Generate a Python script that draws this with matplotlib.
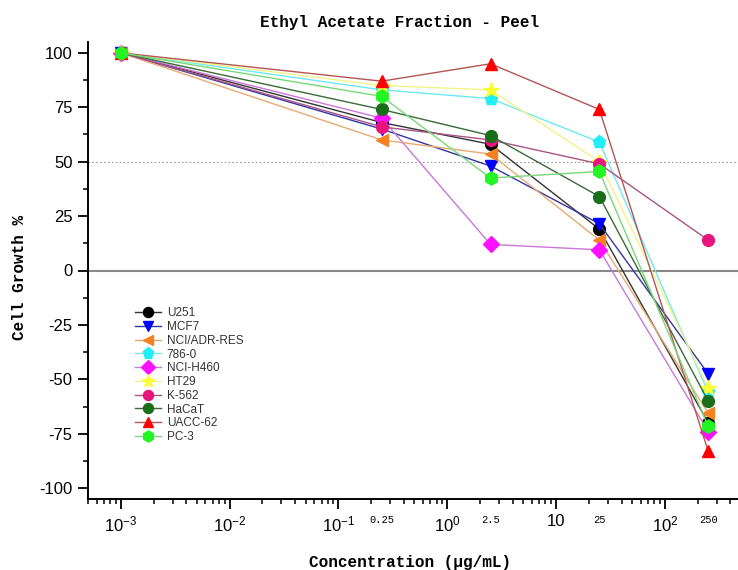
import matplotlib
matplotlib.use("Agg")
import matplotlib.pyplot as plt
import matplotlib.transforms as mtransforms
from matplotlib.ticker import FixedLocator, LogLocator, MultipleLocator, NullFormatter

plt.rcParams['font.family'] = ['Liberation Sans', 'DejaVu Sans']
plt.rcParams['axes.unicode_minus'] = False

# concentrations tested (ug/mL); 0.001 is the untreated control
conc = [0.001, 0.25, 2.5, 25, 250]
conc_labels = ['0.25', '2.5', '25', '250']

cell_lines = ['U251', 'MCF7', 'NCI/ADR-RES', '786-0', 'NCI-H460',
              'HT29', 'K-562', 'HaCaT', 'UACC-62', 'PC-3']

u251 = [100, 68, 58, 19, -70]
mcf7 = [100, 65, 48, 21.5, -47.5]
nci_adr = [100, 60, 53.5, 14, -65.5]
c786 = [100, 83, 79, 59, -56]
nci_h460 = [100, 70, 12, 9.5, -74]
ht29 = [100, 85, 83, 50, -54]
k562 = [100, 66, 60, 49, 14]
hacat = [100, 74, 62, 34, -60]
uacc62 = [100, 87, 95, 74, -83]
pc3 = [100, 80, 42.5, 45.5, -71.5]

growth = [u251, mcf7, nci_adr, c786, nci_h460, ht29, k562, hacat, uacc62, pc3]

markers = ['o', 'v', '<', 'p', 'D', '*', 'o', 'o', '^', 'h']
marker_colors = ['#000000', '#0000ff', '#f58220', '#22eef5', '#ff10ff',
                 '#ffff33', '#e8157d', '#1a6e1a', '#ff0000', '#22f522']
line_colors = ['#333333', '#3535a0', '#e8aa70', '#70e8ee', '#c878d8',
               '#f2f28a', '#a85585', '#3a6a3a', '#b45555', '#78d878']
marker_sizes = [8.5, 9, 9, 9.5, 8, 11.5, 8.5, 8.5, 9, 9.5]

mono = ['Liberation Mono', 'DejaVu Sans Mono']

fig = plt.figure(figsize=(7.38, 5.70), dpi=100)
ax = fig.add_axes([88 / 738, 71 / 570, 650 / 738, 457 / 570])

# reference lines: zero growth and 50 % (GI50)
ax.axhline(0, color='#888888', lw=1.5, zorder=1)
ax.axhline(50, color='#999999', lw=0.8, ls=(0, (1.5, 2)), zorder=1)

for name, vals, m, mc, lc, ms in zip(cell_lines, growth, markers,
                                     marker_colors, line_colors, marker_sizes):
    ax.plot(conc, vals, color=lc, lw=1.0, marker=m, markersize=ms,
            markerfacecolor=mc, markeredgecolor=mc, label=name, zorder=3)

ax.set_xscale('log')
ax.set_xlim(5e-4, 470)
ax.set_ylim(-105, 105)

ax.xaxis.set_major_locator(FixedLocator([1e-3, 1e-2, 1e-1, 1, 10, 100]))
ax.set_xticklabels([r'$\mathdefault{10^{-3}}$', r'$\mathdefault{10^{-2}}$',
                    r'$\mathdefault{10^{-1}}$', r'$\mathdefault{10^{0}}$',
                    '10', r'$\mathdefault{10^{2}}$'])
ax.xaxis.set_minor_locator(LogLocator(base=10, subs=range(2, 10), numticks=20))
ax.xaxis.set_minor_formatter(NullFormatter())

ax.yaxis.set_major_locator(MultipleLocator(25))
ax.yaxis.set_minor_locator(MultipleLocator(12.5))

ax.tick_params(which='major', direction='out', length=7, width=1.3,
               labelsize=12, pad=4, colors='black')
ax.tick_params(which='minor', direction='out', length=3.6, width=1.1)

for side in ['top', 'right']:
    ax.spines[side].set_visible(False)
for side in ['left', 'bottom']:
    ax.spines[side].set_linewidth(1.4)

# small labels for the tested concentrations under the axis
trans = mtransforms.blended_transform_factory(ax.transData, ax.transAxes)
for c, lab in zip(conc[1:], conc_labels):
    ax.text(c, -0.047, lab, transform=trans, ha='center', va='center',
            fontsize=7.5, family=mono)

ax.set_title('Ethyl Acetate Fraction - Peel', fontsize=11.5, fontweight='bold',
             family=mono, pad=11, x=(400 - 88) / 650)
ax.set_xlabel('Concentration (µg/mL)', fontsize=11.5, fontweight='bold',
              family=mono, va='center')
ax.xaxis.set_label_coords((410 - 88) / 650, -0.14)
ax.set_ylabel('Cell Growth %', fontsize=11.5, fontweight='bold',
              family=mono, va='center')
ax.yaxis.set_label_coords((20 - 88) / 650, 0.484)

ax.legend(loc='upper left', bbox_to_anchor=(0.065, 0.43), frameon=False,
          fontsize=8.5, labelspacing=0.15, handlelength=2.2, handletextpad=0.5,
          borderaxespad=0, labelcolor='#333333', markerscale=0.85)

fig.savefig('out.png', dpi=100)
